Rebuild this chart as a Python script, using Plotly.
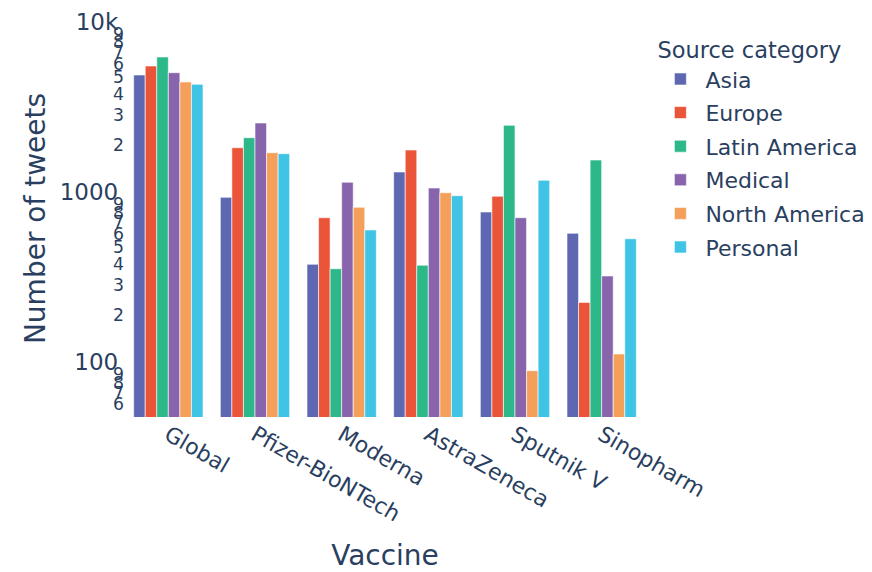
import numpy as np
import plotly.graph_objects as go

vaccines = ["Global", "Pfizer-BioNTech", "Moderna", "AstraZeneca", "Sputnik V", "Sinopharm"]
categories = ["Asia", "Europe", "Latin America", "Medical", "North America", "Personal"]

asia = [5150, 983, 397, 1385, 806, 604]
europe = [5815, 1924, 746, 1865, 997, 237]
latin_america = [6570, 2203, 374, 392, 2606, 1629]
medical = [5311, 2688, 1205, 1115, 746, 339]
north_america = [4684, 1798, 859, 1046, 94, 118]
personal = [4539, 1774, 632, 1005, 1238, 561]

series = [asia, europe, latin_america, medical, north_america, personal]
colors = ["#5e67b2", "#ea5439", "#2db88a", "#8864ac", "#f5a05a", "#40c4e6"]

font_family = "DejaVu Sans"
text_color = "#2a3f5f"

fig = go.Figure()
for name, vals, col in zip(categories, series, colors):
    fig.add_trace(go.Bar(
        name=name, x=vaccines, y=vals, legendgroup=name,
        marker=dict(color=col, line=dict(color="white", width=0.6)),
    ))

fig.update_layout(
    width=864, height=564,
    barmode="group",
    bargap=0.2, bargroupgap=0,
    paper_bgcolor="white", plot_bgcolor="white",
    font=dict(family=font_family, color=text_color, size=22),
    margin=dict(l=117, r=227, t=12, b=155, autoexpand=False),
    legend=dict(
        title=dict(text="Source category", font=dict(size=22.5)),
        font=dict(size=22),
        itemwidth=40,
        tracegroupgap=2,
        x=1.02, xanchor="left", y=0.9775, yanchor="top",
    ),
    xaxis=dict(
        title=dict(text="Vaccine", font=dict(size=28), standoff=22),
        tickangle=30, tickfont=dict(size=22),
        showgrid=False, showline=False, zeroline=False,
        automargin=False,
    ),
    yaxis=dict(
        type="log",
        range=[1.701, 4.035],
        dtick="D1",
        ticklabeloverflow="allow",
        title=dict(text="Number of tweets", font=dict(size=28), standoff=5),
        tickfont=dict(size=23),
        showgrid=False, showline=False, zeroline=False,
        automargin=False,
    ),
)

fig.write_html("out.html")
